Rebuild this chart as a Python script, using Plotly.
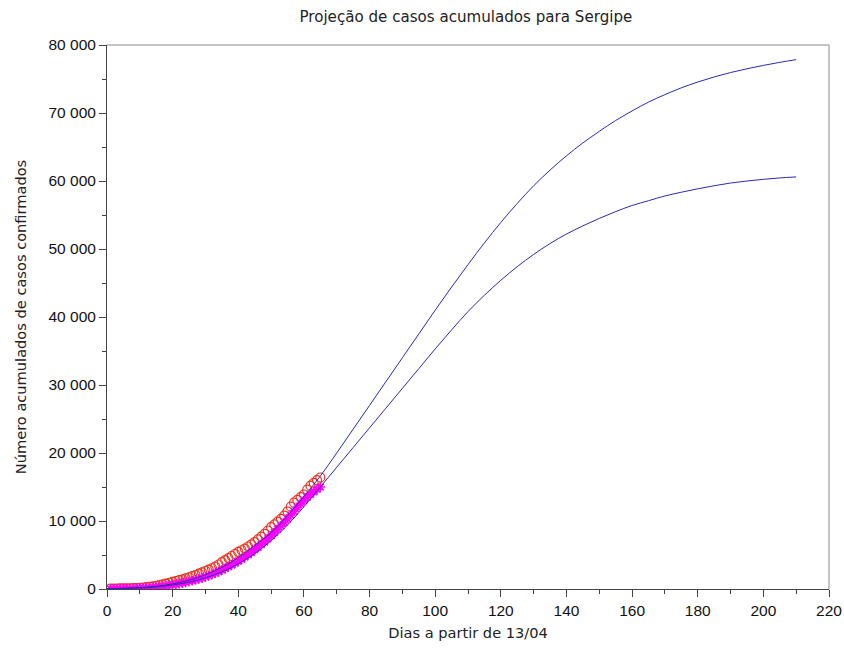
import plotly.graph_objects as go

# Observed cumulative confirmed cases (day index from 13/04)
obs_days = list(range(1, 66))
casos_confirmados = [
    50, 60, 70, 80, 90, 100, 110, 130, 150, 180,
    220, 270, 330, 400, 480, 580, 680, 800, 920, 1050,
    1180, 1300, 1430, 1570, 1720, 1880, 2050, 2250, 2450, 2650,
    2850, 3050, 3300, 3600, 3950, 4250, 4550, 4850, 5150, 5450,
    5700, 5950, 6250, 6550, 6900, 7300, 7700, 8100, 8600, 9100,
    9500, 9900, 10300, 10800, 11400, 12100, 12700, 13100, 13500, 13900,
    14600, 15200, 15600, 16000, 16400,
]
casos_ajustados = [
    30, 40, 40, 50, 60, 70, 80, 90, 100, 120,
    140, 170, 200, 240, 280, 330, 390, 450, 520, 600,
    680, 770, 870, 980, 1100, 1220, 1350, 1480, 1620, 1780,
    1950, 2130, 2330, 2550, 2780, 3020, 3270, 3530, 3800, 4080,
    4380, 4700, 5030, 5380, 5750, 6130, 6530, 6950, 7380, 7830,
    8300, 8780, 9280, 9800, 10330, 10880, 11440, 12000, 12550, 13050,
    13500, 13900, 14300, 14650, 15000,
]

# Projection curves
proj_days = list(range(0, 211, 5))
projecao_superior = [
    50, 100, 200, 400, 750, 1300, 2100, 3200, 4600, 6400,
    8300, 10800, 13600, 16600, 20000, 23500, 27000, 30500, 34000, 37500,
    41000, 44400, 47700, 50900, 53900, 56700, 59300, 61600, 63700, 65600,
    67300, 68900, 70300, 71600, 72700, 73700, 74550, 75300, 75950, 76500,
    77000, 77450, 77850,
]
projecao_inferior = [
    40, 80, 150, 300, 600, 1000, 1650, 2500, 3700, 5200,
    7100, 9400, 12100, 15000, 17900, 20800, 23700, 26600, 29500, 32400,
    35300, 38100, 40800, 43200, 45400, 47400, 49200, 50800, 52200, 53400,
    54500, 55500, 56400, 57100, 57800, 58350, 58850, 59300, 59700, 60000,
    60250, 60450, 60600,
]

x_ticks = list(range(0, 221, 20))
y_ticks = list(range(0, 80001, 10000))
y_ticktext = [f"{v:,}".replace(",", " ") for v in y_ticks]

fig = go.Figure()

fig.add_trace(go.Scatter(
    x=obs_days, y=casos_confirmados, mode="markers",
    marker=dict(symbol="circle-open", size=9, color="#f0321e",
                line=dict(width=1.2, color="#f0321e")),
    cliponaxis=True, showlegend=False,
))
fig.add_trace(go.Scatter(
    x=obs_days, y=casos_ajustados, mode="markers",
    marker=dict(symbol="asterisk-open", size=8, color="#ff00ff",
                line=dict(width=1.6, color="#ff00ff")),
    cliponaxis=True, showlegend=False,
))
fig.add_trace(go.Scatter(
    x=proj_days, y=projecao_superior, mode="lines",
    line=dict(color="#2a2ab4", width=1, shape="spline"),
    showlegend=False,
))
fig.add_trace(go.Scatter(
    x=proj_days, y=projecao_inferior, mode="lines",
    line=dict(color="#2a2ab4", width=1, shape="spline"),
    showlegend=False,
))

title_font = dict(family="DejaVu Sans", size=15.1, color="#222222")
label_font = dict(family="DejaVu Sans", size=14.6, color="#222222")
tick_font = dict(family="Liberation Sans", size=15.5, color="#111111")

fig.update_layout(
    width=844, height=651,
    margin=dict(l=107, r=15, t=45, b=62),
    paper_bgcolor="white", plot_bgcolor="white",
    title=dict(text="Projeção de casos acumulados para Sergipe",
               font=title_font, x=0.552, xanchor="center", y=0.974, yanchor="middle"),
    xaxis=dict(
        range=[0, 220], tickvals=x_ticks, ticks="outside", ticklen=7, tickwidth=1,
        tickcolor="#444444", showline=True, linecolor="#444444", linewidth=1,
        showgrid=False, zeroline=False, tickfont=tick_font, automargin=False,
        minor=dict(ticks="outside", ticklen=4, dtick=10, tickcolor="#444444", showgrid=False),
        title=dict(text="Dias a partir de 13/04", font=label_font, standoff=10),
    ),
    yaxis=dict(
        range=[0, 80000], tickvals=y_ticks, ticktext=y_ticktext, ticks="outside",
        ticklen=7, tickwidth=1, tickcolor="#444444", showline=True,
        linecolor="#444444", linewidth=1, showgrid=False, zeroline=False,
        tickfont=tick_font, automargin=False,
        minor=dict(ticks="outside", ticklen=4, dtick=5000, tickcolor="#444444", showgrid=False),
        title=dict(text="Número acumulados de casos confirmados", font=label_font, standoff=18),
    ),
    shapes=[
        dict(type="line", xref="paper", yref="paper", x0=0, x1=1, y0=1, y1=1,
             line=dict(color="#8a8a8a", width=1)),
        dict(type="line", xref="paper", yref="paper", x0=1, x1=1, y0=0, y1=1,
             line=dict(color="#8a8a8a", width=1)),
    ],
)

fig.write_html("out.html")
